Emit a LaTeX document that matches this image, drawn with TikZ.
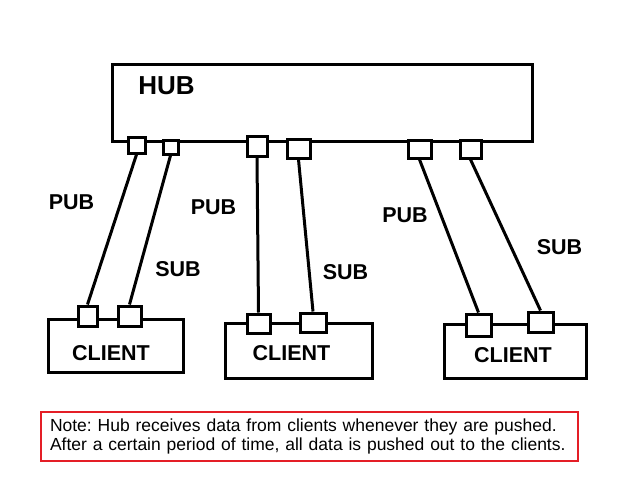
\documentclass[tikz,border=0pt]{standalone}
\usepackage{fontspec}
\setmainfont{Liberation Sans}
\frenchspacing
\definecolor{notered}{RGB}{228,30,38}
\begin{document}
\begin{tikzpicture}[x=1pt, y=-1pt, line width=3pt,
	box/.style={draw, rectangle, inner sep=0pt, minimum width=#1},
	port/.style 2 args={draw, fill=white, rectangle, inner sep=0pt, minimum width=#1pt, minimum height=#2pt},
	tag/.style={inner sep=0pt, font=\bfseries\fontsize{21.5}{24}\selectfont},
	notebox/.style={draw=notered, line width=2pt, rectangle, minimum height=49pt, text width=519pt, inner xsep=9pt, align=left, font=\fontsize{17.5}{19}\selectfont}]
	\fill[white] (0,0) rectangle (640,480);
	\useasboundingbox (0,0) rectangle (640,480);
	
	% hub
	\node[box=420pt, minimum height=77pt] (hub) at (322,103) {};
	\node[inner sep=0pt, font=\bfseries\fontsize{26}{28}\selectfont] (hublbl) at (166.5,86) {HUB};
	
	% clients
	\node[box=135pt, minimum height=53pt] (client1) at (116,346) {};
	\node[box=147pt, minimum height=55pt] (client2) at (299,351) {};
	\node[box=142pt, minimum height=54pt] (client3) at (515.5,351.5) {};
	\node[tag] (cl1lbl) at (111,353) {CLIENT};
	\node[tag] (cl2lbl) at (291.5,353.5) {CLIENT};
	\node[tag] (cl3lbl) at (513,355) {CLIENT};
	
	% ports on the hub
	\node[port={17}{16}] (hpub1) at (136.5,145) {};
	\node[port={15}{14}] (hsub1) at (170.5,147) {};
	\node[port={20}{20}] (hpub2) at (257,146) {};
	\node[port={23}{19}] (hsub2) at (298.5,148.5) {};
	\node[port={23}{18}] (hpub3) at (419.5,149) {};
	\node[port={21}{18}] (hsub3) at (470.5,149) {};
	
	% ports on the clients
	\node[port={19}{20}] (cpub1) at (87.5,316) {};
	\node[port={23}{20}] (csub1) at (129.5,316) {};
	\node[port={23}{19}] (cpub2) at (258.5,323.5) {};
	\node[port={26}{19}] (csub2) at (313,322.5) {};
	\node[port={25}{22}] (cpub3) at (478.5,325) {};
	\node[port={25}{20}] (csub3) at (540.5,322) {};
	
	% links
	\draw (hpub1.south) -- (cpub1.north);
	\draw (hsub1.south) -- (csub1.north);
	\draw (hpub2.south) -- (cpub2.north);
	\draw (hsub2.south) -- (csub2.north);
	\draw (hpub3.south) -- (cpub3.north);
	\draw (hsub3.south) -- (csub3.north);
	
	\node[tag] (pub1) at (71.5,202) {PUB};
	\node[tag] (sub1) at (178,269.5) {SUB};
	\node[tag] (pub2) at (213.5,207.5) {PUB};
	\node[tag] (sub2) at (345.5,272.5) {SUB};
	\node[tag] (pub3) at (405,215.5) {PUB};
	\node[tag] (sub3) at (559.5,247.5) {SUB};
	
	\node[notebox] (note) at (309.5,436.5) {Note: Hub receives data from clients whenever they are pushed.\\After a certain period of time, all data is pushed out to the clients.};
\end{tikzpicture}
\end{document}
